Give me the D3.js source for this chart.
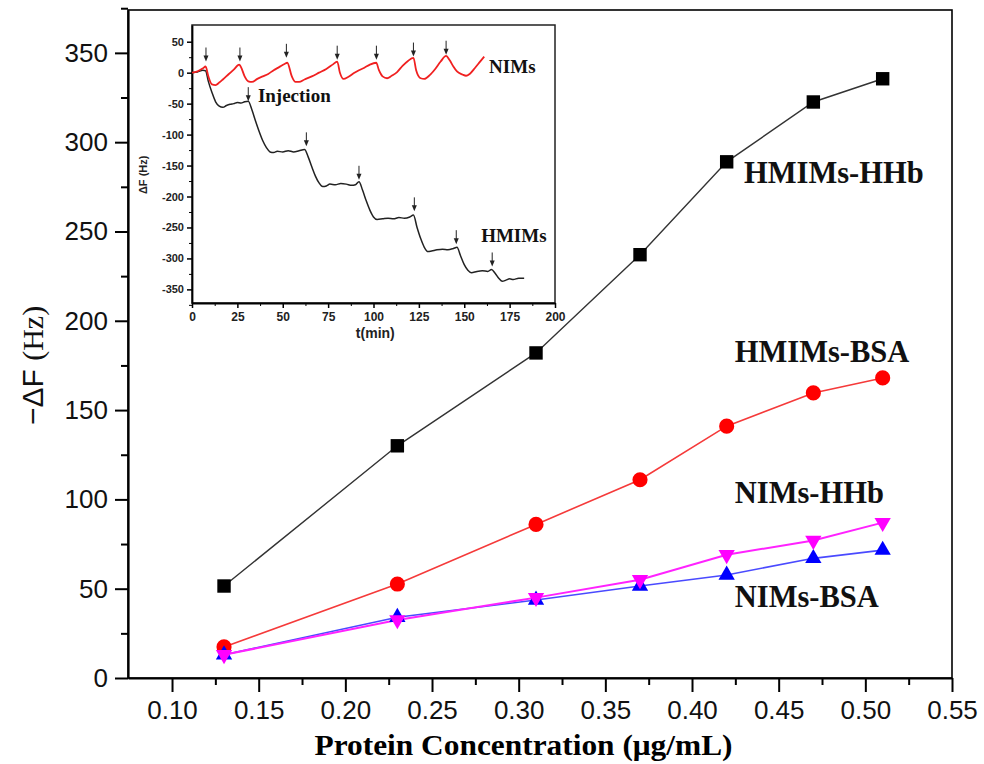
<!DOCTYPE html>
<html>
<head>
<meta charset="utf-8">
<script src="https://cdn.jsdelivr.net/npm/d3@7"></script>
<style>
    body { margin: 0; background: #fff; }
    svg { display: block; }
</style>
</head>
<body>
<script>
// Main chart data
const concentration = [0.13, 0.23, 0.31, 0.37, 0.42, 0.47, 0.51];
const hmimsHHb = [51.5, 130, 182, 237, 289, 322.5, 335.5];
const hmimsBSA = [17.4, 52.6, 86, 111, 141, 159.6, 168];
const nimsBSA = [13, 34, 43.7, 51.5, 57.7, 67, 71.6];
const nimsHHb = [13, 32.5, 45, 55, 69, 77, 87];

const xTicks = [0.10, 0.15, 0.20, 0.25, 0.30, 0.35, 0.40, 0.45, 0.50, 0.55];
const yTicks = [0, 50, 100, 150, 200, 250, 300, 350];

// Series labels: [text, concentration, -dF]
const seriesLabels = [
    ["HMIMs-HHb", 0.430, 277],
    ["HMIMs-BSA", 0.4247, 177],
    ["NIMs-HHb", 0.4247, 98],
    ["NIMs-BSA", 0.4247, 39.8]
];

// Inset data: [t (min), dF (Hz)]
const hmimsTrace = [[0,0],[3,1],[6,4],[7.5,3],[9,-14],[11,-32],[13,-47],[15,-54],[17,-56],[19,-53],[21,-51],[23,-50],[25,-48],[27,-49],[29,-47],[31,-46],
    [33,-60],[35,-78],[37,-95],[39,-110],[41,-121],[43,-128],[45,-129],[47,-127],[50,-128],[53,-126],[56,-128],[59,-126],[62,-124],
    [64,-136],[66,-152],[68,-167],[70,-178],[72,-184],[74,-183],[76,-180],[79,-181],[82,-179],[85,-180],[88,-182],[90,-181],[92,-176],
    [94,-190],[96,-207],[98,-222],[100,-233],[102,-237],[105,-236],[108,-235],[111,-236],[114,-234],[117,-235],[120,-233],[122,-230],
    [124,-250],[126,-268],[128,-282],[130,-289],[132,-288],[135,-286],[138,-285],[141,-286],[144,-284],[146,-282],
    [148,-296],[150,-310],[152,-319],[154,-323],[157,-321],[160,-320],[163,-321],[165,-318],
    [167,-324],[169,-332],[171,-337],[173,-335],[175,-333],[177,-334],[180,-332],[183,-332]];
const nimsTrace = [[0,0],[3,2],[6,7],[7.5,10],[9,-6],[11,-19],[13,-20],[15,-16],[17,-11],[20,-3],[23,5],[26,13],
    [27,9],[29,-6],[31,-14],[33,-15],[36,-10],[39,-6],[42,-2],[45,4],[48,9],[51,14],[52.5,16],
    [55,-6],[57,-15],[59,-15],[62,-11],[66,-6],[70,0],[74,6],[77.5,13],[80,18],
    [81.5,0],[83.5,-10],[86,-7],[89,-1],[92,4],[95,8],[98,13],[101.5,16],
    [103,4],[105,-6],[107.5,-9],[110,-5],[113,1],[116,11],[119,19],[122,24],
    [123.5,4],[126,-9],[128,-10],[131,-4],[134,6],[137,18],[140,27],
    [142,20],[144,10],[146,2],[149,-3],[151,-5],[153,-2],[156,8],[158.5,17],[161,26]];

// Injection arrows: [t, tip dF]
const nimsArrows = [[7.7,18],[26.4,18],[52,24],[80,21],[101.6,21],[122,26],[140,29]];
const hmimsArrows = [[31,-46],[63,-119],[92,-173],[122.5,-224],[145.6,-277],[165.4,-313]];

const insetXTicks = [0, 25, 50, 75, 100, 125, 150, 175, 200];
const insetYTicks = [50, 0, -50, -100, -150, -200, -250, -300, -350];

const insetLabels = [
    ["Injection", 36.3, -47],
    ["NIMs", 163.7, 0],
    ["HMIMs", 159.3, -274]
];

const width = 984;
const height = 764;
const margin = {top: 10, right: 32, bottom: 86, left: 128};

const sans = "'Liberation Sans', Arial, sans-serif";
const serif = "'Liberation Serif', 'Times New Roman', serif";

const x = d3.scaleLinear([0.0746, 0.55], [margin.left, width - margin.right]);
const y = d3.scaleLinear([0, 374], [height - margin.bottom, margin.top]);

const svg = d3.select("body").append("svg")
    .attr("width", width)
    .attr("height", height)
    .attr("viewBox", [0, 0, width, height]);

// frame
svg.append("rect")
    .attr("x", margin.left).attr("y", margin.top)
    .attr("width", width - margin.right - margin.left)
    .attr("height", height - margin.bottom - margin.top)
    .attr("fill", "none").attr("stroke", "#000").attr("stroke-width", 1.6);

function styleAxis(g, size) {
    g.select(".domain").attr("stroke-width", 2.2);
    g.selectAll(".tick line").attr("stroke-width", 2);
    g.selectAll(".tick text")
        .attr("fill", "#111")
        .style("font-family", sans)
        .style("font-size", size + "px");
}

// x axis, minor then major
svg.append("g")
    .attr("transform", `translate(0,${y(0)})`)
    .call(d3.axisBottom(x).tickValues(xTicks.slice(0, -1).map(d => d + 0.025)).tickSize(7).tickFormat(""))
    .call(g => g.select(".domain").remove())
    .call(g => g.selectAll(".tick line").attr("stroke-width", 2));
svg.append("g")
    .attr("transform", `translate(0,${y(0)})`)
    .call(d3.axisBottom(x).tickValues(xTicks).tickSize(14).tickSizeOuter(0).tickPadding(9).tickFormat(d3.format(".2f")))
    .call(g => styleAxis(g, 26));

// y axis
svg.append("g")
    .attr("transform", `translate(${margin.left},0)`)
    .call(d3.axisLeft(y).tickValues(yTicks.map(d => d + 25)).tickSize(7).tickFormat(""))
    .call(g => g.select(".domain").remove())
    .call(g => g.selectAll(".tick line").attr("stroke-width", 2));
svg.append("g")
    .attr("transform", `translate(${margin.left},0)`)
    .call(d3.axisLeft(y).tickValues(yTicks).tickSize(13).tickSizeOuter(0).tickPadding(7))
    .call(g => styleAxis(g, 26));

// axis titles
svg.append("text")
    .attr("x", x(0.3028))
    .attr("y", 755)
    .attr("text-anchor", "middle")
    .attr("textLength", 418)
    .attr("lengthAdjust", "spacingAndGlyphs")
    .style("font-family", serif)
    .style("font-weight", "bold")
    .style("font-size", "29.5px")
    .text("Protein Concentration (μg/mL)");

const yTitle = svg.append("text")
    .attr("transform", `translate(43,${y(175)}) rotate(-90)`)
    .attr("text-anchor", "middle")
    .style("font-size", "30px")
    .attr("fill", "#111");
yTitle.append("tspan").style("font-family", sans).text("−ΔF ");
yTitle.append("tspan").style("font-family", serif).text("(Hz)");

// series
const series = [
    {values: hmimsHHb, line: "#333", lineWidth: 1.4, fill: "#000", symbol: d3.symbolSquare, size: 180, rotate: 0},
    {values: hmimsBSA, line: "#f53a3a", lineWidth: 1.6, fill: "#ff0000", symbol: d3.symbolCircle, size: 180, rotate: 0},
    {values: nimsBSA, line: "#4a4aff", lineWidth: 1.6, fill: "#0000ff", symbol: d3.symbolTriangle, size: 115, rotate: 0},
    {values: nimsHHb, line: "#ff22ff", lineWidth: 2, fill: "#ff00ff", symbol: d3.symbolTriangle, size: 115, rotate: 180}
];

const line = d3.line()
    .x(d => x(d[0]))
    .y(d => y(d[1]));

for (const s of series) {
    const pts = d3.zip(concentration, s.values);
    svg.append("path")
        .datum(pts)
        .attr("fill", "none")
        .attr("stroke", s.line)
        .attr("stroke-width", s.lineWidth)
        .attr("d", line);
}
for (const s of series) {
    const pts = d3.zip(concentration, s.values);
    svg.append("g")
        .selectAll("path")
        .data(pts)
        .join("path")
        .attr("transform", d => `translate(${x(d[0])},${y(d[1])}) rotate(${s.rotate})`)
        .attr("fill", s.fill)
        .attr("d", d3.symbol(s.symbol, s.size));
}

svg.append("g")
    .style("font-family", serif)
    .style("font-weight", "bold")
    .style("font-size", "30.5px")
    .selectAll("text")
    .data(seriesLabels)
    .join("text")
    .attr("x", d => x(d[1]))
    .attr("y", d => y(d[2]))
    .attr("fill", "#111")
    .text(d => d[0]);

// ---- inset ----
const ix = d3.scaleLinear([0, 200], [192, 555]);
const iy = d3.scaleLinear([-372, 77], [303, 25]);

const inset = svg.append("g");

inset.append("rect")
    .attr("x", ix(0)).attr("y", iy(77))
    .attr("width", ix(200) - ix(0))
    .attr("height", iy(-372) - iy(77))
    .attr("fill", "#fff").attr("stroke", "#222").attr("stroke-width", 1.5);

inset.append("g")
    .attr("transform", `translate(0,${iy(-372)})`)
    .call(d3.axisBottom(ix).tickValues(insetXTicks.slice(0, -1).map(d => d + 12.5)).tickSize(3).tickFormat(""))
    .call(g => g.select(".domain").remove());
inset.append("g")
    .attr("transform", `translate(0,${iy(-372)})`)
    .call(d3.axisBottom(ix).tickValues(insetXTicks).tickSize(5).tickSizeOuter(0).tickPadding(4))
    .call(g => g.select(".domain").attr("stroke-width", 1.8))
    .call(g => g.selectAll(".tick line").attr("stroke-width", 1.5))
    .call(g => g.selectAll(".tick text")
        .attr("fill", "#222")
        .style("font-family", sans).style("font-weight", "bold").style("font-size", "12px"));

inset.append("g")
    .attr("transform", `translate(${ix(0)},0)`)
    .call(d3.axisLeft(iy).tickValues(insetYTicks.map(d => d - 25)).tickSize(3).tickFormat(""))
    .call(g => g.select(".domain").remove());
inset.append("g")
    .attr("transform", `translate(${ix(0)},0)`)
    .call(d3.axisLeft(iy).tickValues(insetYTicks).tickSize(5).tickSizeOuter(0).tickPadding(3).tickFormat(d => String(d)))
    .call(g => g.select(".domain").attr("stroke-width", 1.8))
    .call(g => g.selectAll(".tick line").attr("stroke-width", 1.5))
    .call(g => g.selectAll(".tick text")
        .attr("fill", "#222")
        .style("font-family", sans).style("font-weight", "bold").style("font-size", "11px"));

inset.append("text")
    .attr("transform", `translate(147,${iy(-165)}) rotate(-90)`)
    .attr("text-anchor", "middle")
    .style("font-family", sans).style("font-weight", "bold").style("font-size", "11px")
    .attr("fill", "#222")
    .text("ΔF (Hz)");

inset.append("text")
    .attr("x", ix(101))
    .attr("y", 338)
    .attr("text-anchor", "middle")
    .style("font-family", sans).style("font-weight", "bold").style("font-size", "14px")
    .attr("fill", "#222")
    .text("t(min)");

const iline = d3.line()
    .x(d => ix(d[0]))
    .y(d => iy(d[1]))
    .curve(d3.curveMonotoneX);

inset.append("path")
    .datum(hmimsTrace)
    .attr("fill", "none").attr("stroke", "#222").attr("stroke-width", 1.5)
    .attr("d", iline);
inset.append("path")
    .datum(nimsTrace)
    .attr("fill", "none").attr("stroke", "#f02020").attr("stroke-width", 1.8)
    .attr("d", iline);

function arrows(data) {
    const g = inset.append("g");
    g.selectAll("line")
        .data(data)
        .join("line")
        .attr("x1", d => ix(d[0])).attr("x2", d => ix(d[0]))
        .attr("y1", d => iy(d[1]) - 14).attr("y2", d => iy(d[1]) - 4)
        .attr("stroke", "#222").attr("stroke-width", 1);
    g.selectAll("path")
        .data(data)
        .join("path")
        .attr("transform", d => `translate(${ix(d[0])},${iy(d[1])})`)
        .attr("d", "M-2.5,-6L2.5,-6L0,0Z")
        .attr("fill", "#222");
}
arrows(nimsArrows);
arrows(hmimsArrows);

inset.append("g")
    .style("font-family", serif).style("font-weight", "bold").style("font-size", "19px")
    .selectAll("text")
    .data(insetLabels)
    .join("text")
    .attr("x", d => ix(d[1]))
    .attr("y", d => iy(d[2]))
    .attr("fill", "#111")
    .text(d => d[0]);
</script>
</body>
</html>
